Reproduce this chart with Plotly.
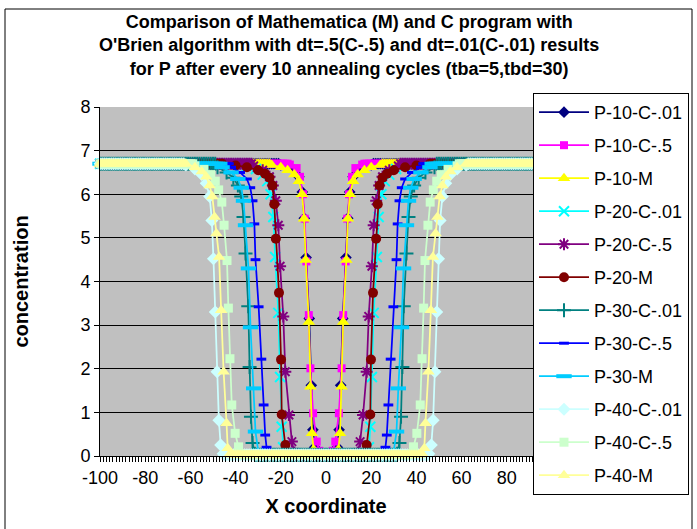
import plotly.graph_objects as go

# Concentration of P across the sample, read along x >= 0 (profiles are symmetric).
PLATEAU = 6.7   # bulk concentration far from the centre
FLOOR = 0.03    # depleted core

P10_C01_X = [4, 5, 5.8, 6.5, 7.4, 8.8, 9.6, 10.5, 12, 14, 17, 20]
P10_C01_Y = [0.08, 0.2, 0.6, 1.62, 3.15, 4.55, 5.45, 6.05, 6.4, 6.55, 6.63, 6.67]

P10_C5_X = [3, 4.1, 5.7, 6.9, 7.6, 8.7, 9.4, 10.2, 11.5, 13, 16]
P10_C5_Y = [0.12, 0.33, 0.98, 2.01, 3.23, 4.46, 5.44, 6.0, 6.4, 6.6, 6.68]

P10_M_X = [4.5, 5.5, 6.2, 6.9, 7.6, 9.0, 9.7, 10.6, 12, 14, 17, 20, 24]
P10_M_Y = [0.05, 0.15, 0.52, 1.59, 3.07, 4.49, 5.44, 6.0, 6.3, 6.45, 6.55, 6.62, 6.67]

P20_C01_X = [18, 19.0, 19.6, 20.3, 21.1, 22.5, 23.3, 24.5, 26, 28, 31, 35]
P20_C01_Y = [0.05, 0.2, 0.67, 1.81, 3.28, 4.56, 5.48, 6.0, 6.3, 6.45, 6.58, 6.65]

P20_C5_X = [14, 15.1, 16.4, 18.0, 18.9, 20.3, 21.1, 22.2, 23.5, 25, 28, 32]
P20_C5_Y = [0.08, 0.33, 0.94, 1.93, 3.2, 4.35, 5.29, 5.85, 6.2, 6.4, 6.55, 6.65]

P20_M_X = [17, 18, 19.6, 19.9, 20.8, 22.2, 22.9, 23.7, 25, 27, 30, 35, 40, 46]
P20_M_Y = [0.05, 0.25, 0.95, 2.21, 3.74, 4.98, 5.77, 6.2, 6.38, 6.47, 6.55, 6.62, 6.66, 6.7]

P30_C01_X = [31.5, 32.5, 33.2, 33.8, 34.4, 35.6, 36.5, 37.5, 39, 41, 44, 48]
P30_C01_Y = [0.05, 0.3, 0.9, 2.04, 3.43, 4.64, 5.48, 5.95, 6.2, 6.38, 6.5, 6.62]

P30_C5_X = [25.5, 26.3, 26.9, 27.6, 28.6, 29.8, 31.2, 31.7, 32.5, 33.5, 35, 38, 42]
P30_C5_Y = [0.05, 0.2, 0.48, 1.17, 2.22, 3.42, 4.5, 5.32, 5.85, 6.15, 6.35, 6.5, 6.62]

P30_M_X = [29, 30, 31.2, 32.0, 33.4, 34.3, 35.6, 36.5, 37.5, 39, 42, 46]
P30_M_Y = [0.04, 0.12, 0.56, 1.55, 2.95, 4.3, 5.29, 5.85, 6.15, 6.35, 6.5, 6.62]

P40_C01_X = [45.5, 46.6, 47.4, 48.2, 49.0, 49.8, 50.5, 51.5, 53, 55, 58, 62]
P40_C01_Y = [0.05, 0.25, 0.82, 1.93, 3.3, 4.52, 5.4, 5.95, 6.25, 6.45, 6.58, 6.67]

P40_C5_X = [38, 38.7, 40.2, 41.7, 42.5, 43.2, 43.8, 45.1, 46.1, 47.5, 49, 51, 54, 58]
P40_C5_Y = [0.05, 0.21, 0.52, 1.17, 2.23, 3.39, 4.48, 5.29, 5.82, 6.1, 6.3, 6.45, 6.57, 6.65]

P40_M_X = [42.5, 43.5, 44.0, 45.3, 46.4, 47.3, 48.5, 49.3, 50.3, 51.5, 53, 55, 58, 62]
P40_M_Y = [0.05, 0.18, 0.75, 1.93, 3.34, 4.56, 5.1, 5.48, 5.95, 6.2, 6.4, 6.52, 6.62, 6.7]

X_MIN, X_MAX = -100, 100
X_TICKS = [-100, -80, -60, -40, -20, 0, 20, 40, 60, 80, 100]
X_TICK_TEXT = ["-100", "-80", "-60", "-40", "-20", "0", "20", "40", "60", "80", "100"]
Y_TICKS = [0, 1, 2, 3, 4, 5, 6, 7, 8]

TITLE_LINES = [
    "Comparison of Mathematica (M) and C program with",
    "O'Brien algorithm with dt=.5(C-.5) and dt=.01(C-.01) results",
    "for P after every 10 annealing cycles (tba=5,tbd=30)",
]

# name, x, y, colour, marker symbol, marker size, marker outline width
SERIES = [
    ("P-10-C-.01", P10_C01_X, P10_C01_Y, "#000080", "diamond", 9, 0),
    ("P-10-C-.5", P10_C5_X, P10_C5_Y, "#FF00FF", "square", 8, 0),
    ("P-10-M", P10_M_X, P10_M_Y, "#FFFF00", "triangle-up", 11, 0),
    ("P-20-C-.01", P20_C01_X, P20_C01_Y, "#00FFFF", "x-thin-open", 10, 2),
    ("P-20-C-.5", P20_C5_X, P20_C5_Y, "#800080", "asterisk-open", 10, 2),
    ("P-20-M", P20_M_X, P20_M_Y, "#800000", "circle", 10, 0),
    ("P-30-C-.01", P30_C01_X, P30_C01_Y, "#008080", "cross-thin-open", 10, 2),
    ("P-30-C-.5", P30_C5_X, P30_C5_Y, "#0000FF", "line-ew-open", 7, 3),
    ("P-30-M", P30_M_X, P30_M_Y, "#00CCFF", "line-ew-open", 11, 4),
    ("P-40-C-.01", P40_C01_X, P40_C01_Y, "#CCFFFF", "diamond", 10, 0),
    ("P-40-C-.5", P40_C5_X, P40_C5_Y, "#CCFFCC", "square", 9, 0),
    ("P-40-M", P40_M_X, P40_M_Y, "#FFFF99", "triangle-up", 11, 0),
]


def full_profile(xs, ys):
    """Unit-spaced core and bulk samples around the front, mirrored to x < 0."""
    first, last = xs[0], xs[-1]
    core = [float(v) for v in range(0, int(-(-first // 1)))]
    bulk = [float(v) for v in range(int(last) + 1, X_MAX + 1)]
    hx = core + list(xs) + bulk
    hy = [FLOOR] * len(core) + list(ys) + [PLATEAU] * len(bulk)
    lx = [-v for v in reversed(hx) if v != 0]
    ly = [y for v, y in zip(reversed(hx), reversed(hy)) if v != 0]
    return lx + hx, ly + hy


fig = go.Figure()
for i, (name, xs, ys, color, symbol, size, lw) in enumerate(SERIES):
    x, y = full_profile(xs, ys)
    fig.add_trace(go.Scatter(
        x=x, y=y, name=name, mode="lines+markers",
        legendgroup=f"g{i}",
        line=dict(color=color, width=1.75),
        marker=dict(symbol=symbol, size=size, color=color,
                    line=dict(color=color, width=lw)),
        cliponaxis=False,
    ))

FONT = "Liberation Sans, Arial, sans-serif"
W, H = 697, 529
L, R, T, B = 100, 145, 107, 73
pw, ph = W - L - R, H - T - B


def px_x(p):
    return (p - L) / pw


def px_y(p):
    return (H - B - p) / ph


# outer chart frame
fig.add_shape(type="rect", xref="paper", yref="paper",
              x0=px_x(5), x1=px_x(692), y0=px_y(540), y1=px_y(9),
              line=dict(color="black", width=1), fillcolor="rgba(0,0,0,0)",
              layer="below")

fig.add_annotation(
    text="<b>" + "<br>".join(TITLE_LINES) + "</b>",
    xref="paper", yref="paper", x=px_x(349), y=px_y(10),
    xanchor="center", yanchor="top", showarrow=False, align="center",
    font=dict(family=FONT, size=18, color="black"),
)

fig.update_layout(
    template="none",
    width=W, height=H,
    margin=dict(l=L, r=R, t=T, b=B, autoexpand=False),
    paper_bgcolor="white",
    plot_bgcolor="#C0C0C0",
    font=dict(family=FONT, size=18, color="black"),
    xaxis=dict(
        range=[X_MIN, X_MAX], tickmode="array",
        tickvals=X_TICKS, ticktext=X_TICK_TEXT,
        showgrid=False, zeroline=False,
        showline=True, linecolor="black", linewidth=1,
        ticks="outside", ticklen=5, tickcolor="black",
        minor=dict(dtick=20 / 14, tick0=0, ticks="outside", ticklen=5,
                   tickcolor="black", showgrid=False),
        tickfont=dict(size=18),
        title=dict(text="<b>X coordinate</b>", font=dict(size=20), standoff=12),
        automargin=False,
    ),
    yaxis=dict(
        range=[0, 8], tickmode="array", tickvals=Y_TICKS,
        showgrid=True, gridcolor="black", gridwidth=1,
        zeroline=False,
        showline=True, linecolor="black", linewidth=1,
        ticks="outside", ticklen=5, tickcolor="black",
        tickfont=dict(size=18),
        title=dict(text="<b>concentration</b>", font=dict(size=20), standoff=46),
        automargin=False,
    ),
    legend=dict(
        x=px_x(533), y=px_y(93), xanchor="left", yanchor="top",
        bgcolor="white", bordercolor="black", borderwidth=1,
        font=dict(size=18), itemwidth=50, tracegroupgap=6.6,
        traceorder="grouped", maxheight=460,
    ),
    showlegend=True,
)

fig.write_html("out.html")
